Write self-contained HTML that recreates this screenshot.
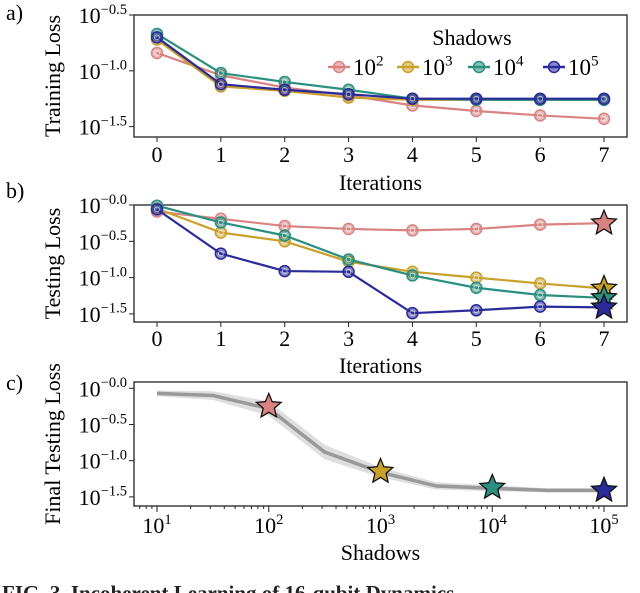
<!DOCTYPE html>
<html><head><meta charset="utf-8">
<style>
body{margin:0;background:#fff;}
svg{display:block;font-family:"Liberation Serif",serif;}
</style></head>
<body>
<svg id="fig" width="640" height="593" viewBox="0 0 640 593"></svg>
<script>
const iterations=[0,1,2,3,4,5,6,7];
const seriesNames=["10^2","10^3","10^4","10^5"];
const seriesColors=["#d98282","#c9a02a","#2a8f7e","#2a2a9a"];
const trainRed=[-0.84,-1.04,-1.15,-1.22,-1.31,-1.36,-1.40,-1.43];
const trainYellow=[-0.72,-1.14,-1.18,-1.24,-1.26,-1.26,-1.26,-1.26];
const trainTeal=[-0.67,-1.02,-1.10,-1.17,-1.25,-1.26,-1.26,-1.26];
const trainBlue=[-0.70,-1.12,-1.17,-1.21,-1.25,-1.25,-1.25,-1.25];
const testRed=[-0.09,-0.19,-0.29,-0.33,-0.35,-0.33,-0.27,-0.25];
const testYellow=[-0.05,-0.38,-0.50,-0.78,-0.92,-1.00,-1.08,-1.15];
const testTeal=[-0.01,-0.24,-0.42,-0.75,-0.97,-1.14,-1.24,-1.28];
const testBlue=[-0.06,-0.67,-0.91,-0.92,-1.49,-1.45,-1.40,-1.41];
const shadowsLog=[1,1.5,2,2.5,3,3.5,4,4.5,5];
const finalLoss=[-0.07,-0.10,-0.28,-0.88,-1.16,-1.35,-1.38,-1.41,-1.41];
const finalSpread=[0.04,0.06,0.10,0.10,0.07,0.05,0.04,0.03,0.03];
const starShadowsLog=[2,3,4,5];
const starLoss=[-0.25,-1.15,-1.37,-1.41];
const yTicksA=[-0.5,-1.0,-1.5];
const yTicksB=[0,-0.5,-1.0,-1.5];
const xTicksC=[1,2,3,4,5];

const NS="http://www.w3.org/2000/svg";
const svg=document.getElementById("fig");
function el(tag,attrs,parent){const e=document.createElementNS(NS,tag);for(const k in attrs)e.setAttribute(k,attrs[k]);(parent||svg).appendChild(e);return e;}
function txt(s,attrs,parent){const e=el("text",attrs,parent);e.textContent=s;return e;}
function powLabel(g,x,y,base,exp,size,anchor){
  const t=el("text",{x:x,y:y,"font-size":size,"text-anchor":anchor||"middle"},g);
  const a=document.createElementNS(NS,"tspan");a.textContent=base;t.appendChild(a);
  const b=document.createElementNS(NS,"tspan");b.setAttribute("dy",-size*0.42);b.setAttribute("font-size",size*0.66);b.textContent=exp;t.appendChild(b);
  return t;
}
function starPath(cx,cy,R){const r=R*0.45;let d="";for(let i=0;i<10;i++){const a=-Math.PI/2+i*Math.PI/5;const rr=i%2?r:R;d+=(i?"L":"M")+(cx+rr*Math.cos(a)).toFixed(1)+","+(cy+rr*Math.sin(a)).toFixed(1);}return d+"Z";}

const X0=157,X7=604,boxL=134,boxR=627;
const xIt=i=>X0+(X7-X0)*i/7;

function panel(name,top,bottom,yFn,ticks,ylabel,letter,letterY){
  const g=el("g",{});
  el("rect",{x:boxL,y:top,width:boxR-boxL,height:bottom-top,fill:"none",stroke:"#222","stroke-width":1.3},g);
  ticks.forEach(t=>{const y=yFn(t);el("line",{x1:boxL-5,x2:boxL,y1:y,y2:y,stroke:"#222"},g);
    const lab=powLabel(g,boxL-7,y+8,"10",(t===0?"\u22120.0":"\u2212"+Math.abs(t).toFixed(1)),22,"end");
    });
  const yl=txt(ylabel,{x:0,y:0,"font-size":22,"text-anchor":"middle",transform:`translate(60,${(top+bottom)/2}) rotate(-90)`},g);
  
  const lt=txt(letter,{x:6,y:letterY,"font-size":22},g);
  
  return g;
}
function iterAxis(g,bottom,labY,titleY){
  iterations.forEach(i=>{el("line",{x1:xIt(i),x2:xIt(i),y1:bottom,y2:bottom+5,stroke:"#222"},g);
    const t=txt(String(i),{x:xIt(i),y:labY,"font-size":22,"text-anchor":"middle"},g);
    });
  const t=txt("Iterations",{x:(boxL+boxR)/2,y:titleY,"font-size":22,"text-anchor":"middle"},g);
  
}
function series(g,vals,color,yFn,name){
  const s=el("g",{},g);
  
  
  el("polyline",{points:vals.map((v,i)=>xIt(i)+","+yFn(v)).join(" "),fill:"none",stroke:color,"stroke-width":2.2},s);
  vals.forEach((v,i)=>{const c=el("circle",{cx:xIt(i),cy:yFn(v),r:5.5,fill:color,"fill-opacity":0.55,stroke:color,"stroke-width":1.5},s);
    
    el("circle",{cx:xIt(i),cy:yFn(v),r:2.4,fill:"none",stroke:"#fff","stroke-width":0.8,"stroke-opacity":0.7},s);});
}
// Panel a
const yA=v=>15+(-0.5-v)/0.5*55.8;
const ga=panel("panel-a-training",15,137,yA,yTicksA,"Training Loss","a)",20);
iterAxis(ga,137,162,190);
[trainRed,trainYellow,trainTeal,trainBlue].forEach((s,k)=>series(ga,s,seriesColors[k],yA,"train-series-"+k));
const lg=el("g",{},ga);

txt("Shadows",{x:472,y:45,"font-size":22,"text-anchor":"middle"},lg);
const lx=[328,397,468,543];
seriesNames.forEach((n,k)=>{const x=lx[k];const e=el("g",{},lg);
  
  el("line",{x1:x,x2:x+22,y1:67,y2:67,stroke:seriesColors[k],"stroke-width":2.5},e);
  el("circle",{cx:x+11,cy:67,r:5.5,fill:seriesColors[k],"fill-opacity":0.55,stroke:seriesColors[k],"stroke-width":1.5},e);
  powLabel(e,x+25,75,"10",n.split("^")[1],23,"start");});
// Panel b
const yB=v=>205+(-v)/0.5*36.3;
const gb=panel("panel-b-testing",205,322,yB,yTicksB,"Testing Loss","b)",198);
iterAxis(gb,322,346,373);
[testRed,testYellow,testTeal,testBlue].forEach((s,k)=>{series(gb,s,seriesColors[k],yB,"test-series-"+k);
  const st=el("path",{d:starPath(xIt(7),yB(s[7]),13),fill:seriesColors[k],stroke:"#111","stroke-width":1.3},gb);
  });
// Panel c
const xC=l=>X0+(X7-X0)*(l-1)/4;
const yC=v=>388.3+(-v)/0.5*36.2;
const gc=panel("panel-c-final",382,506,yC,yTicksB,"Final Testing Loss","c)",390);
for(let d=1;d<=5;d++){el("line",{x1:xC(d),x2:xC(d),y1:506,y2:512,stroke:"#222"},gc);
  if(d<5)for(let m=2;m<=9;m++){const x=xC(d+Math.log10(m));el("line",{x1:x,x2:x,y1:506,y2:509,stroke:"#222"},gc);}}
for(let m=5;m<=9;m++){const x=xC(Math.log10(m));if(x>boxL)el("line",{x1:x,x2:x,y1:506,y2:509,stroke:"#222"},gc);}
xTicksC.forEach(d=>{const t=powLabel(gc,xC(d),533,"10",String(d),22,"middle");
  });
const sx=txt("Shadows",{x:(boxL+boxR)/2,y:560,"font-size":22,"text-anchor":"middle"},gc);

const upper=shadowsLog.map((l,i)=>xC(l)+","+yC(finalLoss[i]+finalSpread[i]));
const lower=shadowsLog.map((l,i)=>xC(l)+","+yC(finalLoss[i]-finalSpread[i])).reverse();
const band=el("polygon",{points:upper.concat(lower).join(" "),fill:"#d6d6d6","fill-opacity":0.8},gc);

const fl=el("polyline",{points:shadowsLog.map((l,i)=>xC(l)+","+yC(finalLoss[i])).join(" "),fill:"none",stroke:"#999","stroke-width":3.5},gc);

starShadowsLog.forEach((l,k)=>{const st=el("path",{d:starPath(xC(l),yC(starLoss[k]),13),fill:seriesColors[k],stroke:"#111","stroke-width":1.3},gc);
  });
const cap=txt("FIG. 3.   Incoherent  Learning  of  16-qubit  Dynamics",{x:2,y:600,"font-size":21,"font-weight":"bold",fill:"#222"});

</script>
</body></html>
